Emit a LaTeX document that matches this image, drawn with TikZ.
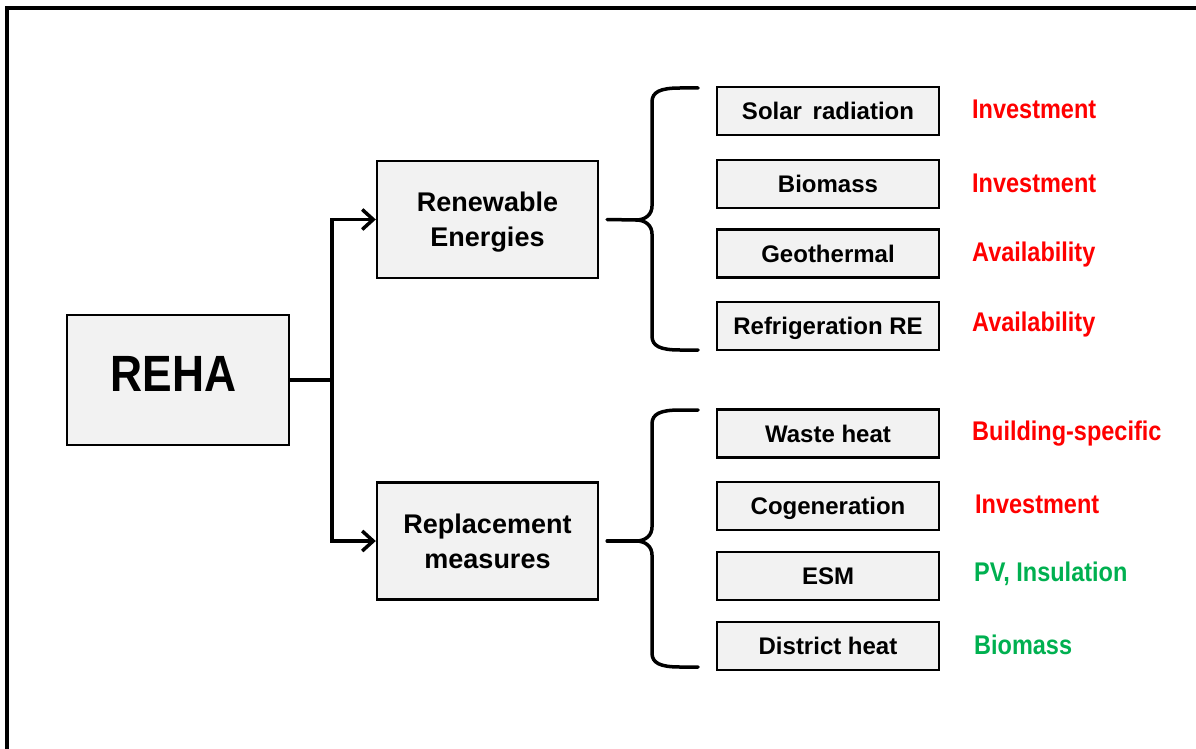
\documentclass[tikz,border=0pt]{standalone}
\usepackage{fontspec}
\setmainfont{Liberation Sans}
\newfontfamily\narrowsans[FakeStretch=0.87]{Liberation Sans}
\usetikzlibrary{arrows.meta}

\definecolor{boxfill}{HTML}{F2F2F2}
\definecolor{labred}{HTML}{FF0000}
\definecolor{labgreen}{HTML}{00B050}

\tikzset{
  box/.style={draw=black, line width=2.4pt, fill=boxfill, inner sep=0pt, text depth=0pt},
  rootbox/.style={box, minimum width=222pt, minimum height=130pt,
    font=\narrowsans\bfseries\fontsize{51}{56}\selectfont, text depth=12pt},
  groupbox/.style={box, minimum width=221pt, minimum height=117pt, align=center,
    font=\bfseries\fontsize{27}{35}\selectfont},
  itembox/.style={box, minimum width=222pt, minimum height=48pt,
    font=\bfseries\fontsize{24}{28}\selectfont},
  note/.style={anchor=west, inner sep=0pt, text depth=0pt,
    font=\narrowsans\bfseries\fontsize{27}{30}\selectfont},
  bad/.style={note, text=labred},
  good/.style={note, text=labgreen},
  conn/.style={draw=black, line width=3.5pt},
  arrowconn/.style={conn, -{Straight Barb[length=11pt, width=20pt]}},
  brace/.style={draw=black, line width=3.5pt, line cap=round, line join=round},
}

\begin{document}
\begin{tikzpicture}[x=1pt, y=-1pt]
  \useasboundingbox (0,0) rectangle (1196,749);

  % outer frame (open towards the right and bottom page edges)
  \draw[line width=3.5pt] (7,760) -- (7,8) -- (1210,8);

  % main boxes
  \node[rootbox] (reha) at (178,380) {REHA\hspace*{9pt}};
  \node[groupbox] (re) at (487.5,219.5) {Renewable\\Energies};
  \node[groupbox] (rm) at (487.5,541) {Replacement\\measures};

  % tree connectors
  \coordinate (trunk) at (332,380);
  \draw[conn] (reha.east) -- (trunk);
  \draw[arrowconn] (trunk) |- (re.west);
  \draw[arrowconn] (trunk) |- (rm.west);

  % renewable energy sources
  \node[itembox] (solar) at (828,111)   {Solar\, radiation};
  \node[itembox] (bio)   at (828,184)   {Biomass};
  \node[itembox] (geo)   at (828,253.5) {Geothermal};
  \node[itembox] (refr)  at (828,326)   {Refrigeration RE};

  % replacement measures
  \node[itembox] (waste) at (828,433.5) {Waste heat};
  \node[itembox] (cogen) at (828,506)   {Cogeneration};
  \node[itembox] (esm)   at (828,576)   {ESM};
  \node[itembox] (dist)  at (828,646)   {District heat};

  % braces grouping the items
  \coordinate (tipU) at (636,220);
  \draw[brace] ([xshift=8pt]re.east) -- (tipU);
  \draw[brace] (698,88) -- (680,88) .. controls (660,88) and (652,92) .. (652,102)
    -- (652,206) .. controls (652,214) and (646,220) .. (tipU)
    .. controls (646,220) and (652,226) .. (652,234)
    -- (652,336) .. controls (652,346) and (660,350) .. (680,350) -- (698,350);

  \coordinate (tipL) at (636,541);
  \draw[brace] ([xshift=8pt]rm.east) -- (tipL);
  \draw[brace] (698,410) -- (680,410) .. controls (660,410) and (652,414) .. (652,424)
    -- (652,527) .. controls (652,535) and (646,541) .. (tipL)
    .. controls (646,541) and (652,547) .. (652,555)
    -- (652,653) .. controls (652,663) and (660,667) .. (680,667) -- (698,667);

  % assessments
  \node[bad]  (n1) at (972,109.5) {Investment};
  \node[bad]  (n2) at (972,183)   {Investment};
  \node[bad]  (n3) at (972,252)   {Availability};
  \node[bad]  (n4) at (972,322)   {Availability};
  \node[bad]  (n5) at (972,431)   {Building-specific};
  \node[bad]  (n6) at (975,504.5) {Investment};
  \node[good] (n7) at (974,572)   {PV, Insulation};
  \node[good] (n8) at (974,645)   {Biomass};
\end{tikzpicture}
\end{document}
